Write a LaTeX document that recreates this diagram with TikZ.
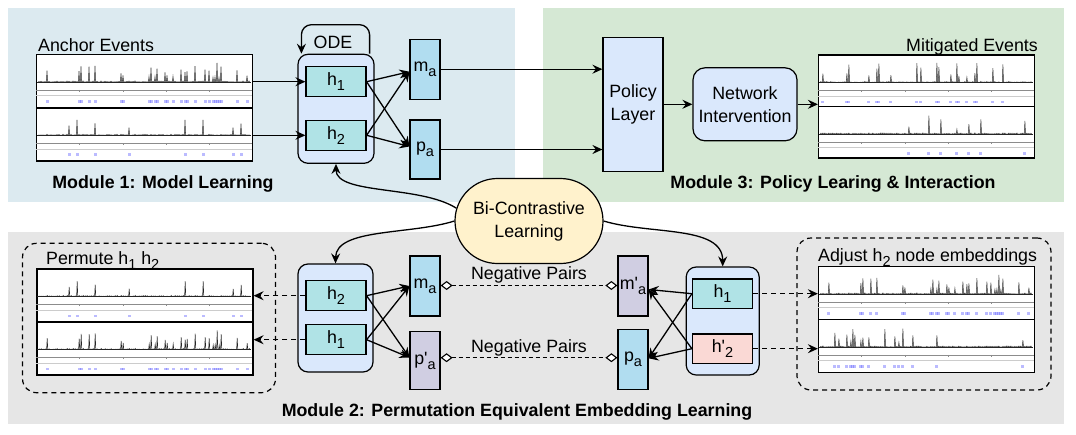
\documentclass[tikz,border=0pt]{standalone}
\usepackage{fontspec}
\setmainfont{Liberation Sans}
\usetikzlibrary{arrows.meta,calc,shapes.misc}

\definecolor{bgA}{HTML}{DCEAF0}
\definecolor{bgB}{HTML}{E6E6E6}
\definecolor{bgC}{HTML}{D5E8D4}
\definecolor{contc}{HTML}{DAE8FC}
\definecolor{hcol}{HTML}{B0E3E6}
\definecolor{mcol}{HTML}{B1DDF0}
\definecolor{pcol}{HTML}{D0CEE2}
\definecolor{rcol}{HTML}{FAD9D5}
\definecolor{ycol}{HTML}{FFF2CC}
\definecolor{dotc}{HTML}{5555FF}

\newcommand\sbx[1]{\raisebox{-5pt}{\fontsize{14.5pt}{14.5pt}\selectfont #1}}
\newcommand\prm{\textquotesingle}

% time-series panel drawn inside a named panel node
\newcommand\tspanel[3]{%
  \begin{scope}[shift={(#1.north west)}]
    \pgfmathsetseed{#2}
    \draw[spk] (1,28) -- (215,28);
    \draw[line width=0.6pt, black!45] (0,36) -- (216,36);
    \foreach \t in {43,87,130,173} {\draw[line width=0.6pt, black!45] (\t,36) -- (\t,38);}
    \draw[line width=0.8pt, black!20] (0,42) -- (216,42);
    \foreach \i in {0,...,105} {
      \pgfmathsetmacro\rr{rnd}
      \pgfmathsetmacro\qq{rnd}
      \pgfmathsetmacro\hh{(\rr<#3) ? (4+16*\qq) : (0.9*\qq)}
      \pgfmathsetmacro\oo{(\rr<#3) ? 0.4 : 0}
      \pgfmathsetmacro\xx{3+2*\i}
      \draw[spk] (\xx-0.6,28) -- (\xx,28-\hh) -- (\xx+0.6,28);
      \fill[dotc, opacity=\oo] (\xx-1.5,46.3) rectangle (\xx+1.5,48.7);
    }
  \end{scope}}

\begin{document}
\begin{tikzpicture}[x=1pt,y=-1pt, font=\fontsize{17.8pt}{23pt}\selectfont,
  box/.style={draw, line width=1.2pt, inner sep=0pt},
  hbox/.style={box, fill=hcol, minimum width=60, minimum height=30},
  vbox/.style={box, minimum width=30, minimum height=60},
  cont/.style={box, fill=contc, rounded corners=10pt, minimum width=75, minimum height=108},
  panel/.style={draw, line width=1.4pt, fill=white, minimum width=216, minimum height=53, inner sep=0pt},
  arr/.style={-{Stealth[length=10pt,width=9pt,inset=3.5pt]}, line width=1.3pt},
  darr/.style={arr, dash pattern=on 5pt off 4pt},
  dmd/.style={{Diamond[length=12pt,width=9pt,fill=white]}-{Diamond[length=12pt,width=9pt,fill=white]}, line width=1.1pt, dash pattern=on 4pt off 3pt},
  dbox/.style={draw, line width=1.2pt, dash pattern=on 5pt off 4pt, rounded corners=14pt, inner sep=0pt},
  lbl/.style={inner sep=0pt},
  mlbl/.style={inner sep=0pt, font=\fontsize{17.8pt}{23pt}\selectfont\bfseries},
  spk/.style={line width=0.5pt, black!85}
]
\useasboundingbox (0,0) rectangle (1076,434);
\fill[white] (0,0) rectangle (1076,434);

% backgrounds
\fill[bgA] (8,8) rectangle (515,202);
\fill[bgC] (543,8) rectangle (1064,202);
\fill[bgB] (8,231.7) rectangle (1064,424);

% module labels
\node[mlbl, anchor=base] (mod1) at (163,188.5) {Module 1: Model Learning};
\node[mlbl, anchor=base] (mod3) at (833,188.5) {Module 3: Policy Learing \& Interaction};
\node[mlbl, anchor=base] (mod2) at (517,416) {Module 2: Permutation Equivalent Embedding Learning};

% dashed groups
\node[dbox, minimum width=253, minimum height=149.4] (dbL) at (149,318) {};
\node[dbox, minimum width=254, minimum height=152] (dbR) at (924,314) {};

% texts
\node[lbl, anchor=base west] (tae) at (38,51) {Anchor Events};
\node[lbl, anchor=base east] (tme) at (1038,51) {Mitigated Events};
\node[lbl, anchor=base west] (tpm) at (46,264.5) {Permute h\sbx{1} h\sbx{2}};
\node[lbl, anchor=base west] (tad) at (818,261) {Adjust h\sbx{2} node embeddings};

% charts
\node[panel, minimum height=53.3] (chA1) at (144.7,81.15) {};
\node[panel, minimum height=53.3] (chA2) at (144.7,134.45) {};
\tspanel{chA1}{101}{0.27}
\tspanel{chA2}{202}{0.13}
\node[panel, minimum height=51.5] (chM1) at (926.6,80.75) {};
\node[panel, minimum height=51.5] (chM2) at (926.6,132.25) {};
\tspanel{chM1}{303}{0.15}
\tspanel{chM2}{404}{0.13}
\node[panel] (chP1) at (144.9,295.5) {};
\node[panel] (chP2) at (144.9,348.5) {};
\tspanel{chP1}{202}{0.13}
\tspanel{chP2}{101}{0.27}
\node[panel] (chR1) at (926.6,293) {};
\node[panel] (chR2) at (926.6,346) {};
\tspanel{chR1}{101}{0.27}
\tspanel{chR2}{505}{0.15}

% module 1
\node[cont, minimum width=76, minimum height=109] (c1) at (336,108.8) {};
\node[hbox] (h1a) at (336,81.7) {h\sbx{1}};
\node[hbox] (h2a) at (336,135.3) {h\sbx{2}};
\node[vbox, fill=mcol] (maA) at (425,69.2) {m\sbx{a}};
\node[vbox, fill=mcol, minimum height=59] (paA) at (425,149.5) {p\sbx{a}};
\node[lbl, anchor=base] (tode) at (333,48) {ODE};
\draw[arr, rounded corners=10pt] ($(c1.north east)+(-5,0)$) -- ++(0,-29) -| ($(c1.north west)+(4,0)$);
\draw[arr] (chA1.east |- h1a.west) -- (h1a.west);
\draw[arr] (chA2.east |- h2a.west) -- (h2a.west);
\draw[arr] (h1a.east) -- ($(maA.west)+(0,2.5)$);
\draw[arr] (h1a.east) -- ($(paA.west)+(0,-3)$);
\draw[arr] (h2a.east) -- ($(maA.west)+(0,2.5)$);
\draw[arr] (h2a.east) -- ($(paA.west)+(0,-3)$);

% module 3
\node[box, fill=contc, minimum width=60, minimum height=134, align=center] (pol) at (633,104.2) {Policy\\Layer};
\node[box, fill=contc, rounded corners=12pt, minimum width=104, minimum height=73, align=center] (ni) at (745,104.3) {Network\\Intervention};
\draw[arr] (maA.east) -- (maA.east -| pol.west);
\draw[arr] (paA.east) -- (paA.east -| pol.west);
\draw[arr] (pol.east |- ni.west) -- (ni.west);
\draw[arr] (ni.east) -- (ni.east -| chM1.west);

% bi-contrastive
\node[box, rounded rectangle, fill=ycol, minimum width=148, minimum height=85, align=center] (bic) at (529,221) {Bi-Contrastive\\Learning};

% module 2 left
\node[cont] (c2) at (335.5,318) {};
\node[hbox] (h2b) at (336,295.7) {h\sbx{2}};
\node[hbox] (h1b) at (336,339.7) {h\sbx{1}};
\node[vbox, fill=mcol] (maB) at (425,286) {m\sbx{a}};
\node[vbox, fill=pcol, minimum height=58] (pa2B) at (425,360.5) {p\prm\sbx{a}};
\draw[darr] (h2b.west) -- (h2b.west -| chP1.east);
\draw[darr] (h1b.west) -- (h1b.west -| chP2.east);
\draw[arr] (h2b.east) -- (maB.west);
\draw[arr] (h2b.east) -- ($(pa2B.west)+(0,-3)$);
\draw[arr] (h1b.east) -- (maB.west);
\draw[arr] (h1b.east) -- ($(pa2B.west)+(0,-3)$);

% module 2 right
\node[vbox, fill=pcol] (m2R) at (633,286) {m\prm\sbx{a}};
\node[vbox, fill=mcol] (paR) at (633,359.3) {p\sbx{a}};
\node[cont, minimum width=73] (c3) at (722.7,321) {};
\node[hbox, minimum height=29.3] (h1R) at (722.5,293.7) {h\sbx{1}};
\node[hbox, fill=rcol, minimum height=29.3] (h2R) at (722.5,348.7) {h\prm\sbx{2}};
\draw[darr] (h1R.east) -- (h1R.east -| chR1.west);
\draw[darr] (h2R.east) -- (h2R.east -| chR2.west);
\draw[arr] (h1R.west) -- ($(m2R.east)+(0,3.5)$);
\draw[arr] (h1R.west) -- ($(paR.east)+(0,-1)$);
\draw[arr] (h2R.west) -- ($(m2R.east)+(0,3.5)$);
\draw[arr] (h2R.west) -- ($(paR.east)+(0,-1)$);

% negative pairs
\coordinate (npb) at ($(maB.east)+(0,-0.5)$);
\coordinate (npa) at ($(pa2B.east)+(0,-2.8)$);
\draw[dmd] (npb) -- (npb -| m2R.west);
\draw[dmd] (npa) -- (npa -| paR.west);
\node[lbl, anchor=base] (np1) at (529,279.3) {Negative Pairs};
\node[lbl, anchor=base] (np2) at (529,352) {Negative Pairs};

% curved connectors from bi-contrastive
\draw[arr] (bic.170) .. controls (420,185) and (336,195) .. (c1.south);
\draw[arr] (bic.west) .. controls (410,235) and (336,228) .. (c2.north);
\draw[arr] (bic.east) .. controls (650,235) and (722.7,225) .. (c3.north);
\end{tikzpicture}
\end{document}
